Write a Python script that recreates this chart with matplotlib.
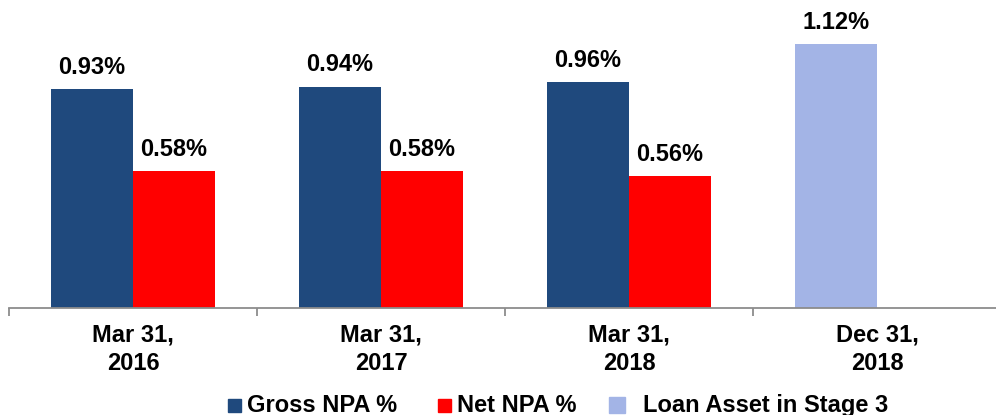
import matplotlib.pyplot as plt
from matplotlib.patches import Rectangle

# data
periods = ['Mar 31,\n2016', 'Mar 31,\n2017', 'Mar 31,\n2018', 'Dec 31,\n2018']
gross_npa = [0.93, 0.94, 0.96]
net_npa = [0.58, 0.58, 0.56]
stage3 = [1.12]

c_gross = '#1F497D'
c_net = '#FF0000'
c_stage = '#A3B4E6'

plt.rcParams['font.family'] = ['Liberation Sans', 'DejaVu Sans']
plt.rcParams['font.weight'] = 'bold'

fig = plt.figure(figsize=(9.96, 4.15), dpi=100)
W, H = 996, 415
ax = fig.add_axes([9 / W, (H - 308) / H, 992 / W, 308 / H])

w = 0.331
xg = [i - w / 2 for i in range(len(gross_npa))]
xn = [i + w / 2 for i in range(len(net_npa))]
xs = [3 - w / 2]

ax.bar(xg, gross_npa, width=w, color=c_gross)
ax.bar(xn, net_npa, width=w, color=c_net)
ax.bar(xs, stage3, width=w, color=c_stage)

for xx, vv in zip(xg + xn + xs, gross_npa + net_npa + stage3):
    ax.annotate(f'{vv:.2f}%', (xx, vv), xytext=(0, 11), textcoords='offset points',
                ha='center', va='baseline', fontsize=17, fontweight='bold')

ax.set_xlim(-0.5, 3.5)
ax.set_ylim(0, 308 / 235.6)
for s in ['top', 'right', 'left']:
    ax.spines[s].set_visible(False)
ax.spines['bottom'].set_color('#8C8C8C')
ax.spines['bottom'].set_linewidth(1.3)
ax.set_yticks([])
ax.set_xticks(range(4))
ax.set_xticklabels(periods, fontsize=17, fontweight='bold', linespacing=1.32)
ax.tick_params(axis='x', which='major', length=0, pad=11)
ax.set_xticks([-0.5, 0.5, 1.5, 2.5, 3.5], minor=True)
ax.tick_params(axis='x', which='minor', length=6, width=1.3, color='#8C8C8C')

# legend drawn by hand to match the spacing
legend = [('Gross NPA %', c_gross, 228, 13, 247),
          ('Net NPA %', c_net, 438, 13, 457),
          ('Loan Asset in Stage 3', c_stage, 609, 16, 643)]
yc = 405
for label, col, mx, ms, tx in legend:
    fig.add_artist(Rectangle((mx / W, (H - yc - ms / 2) / H), ms / W, ms / H,
                             transform=fig.transFigure, color=col))
    fig.text(tx / W, (H - yc) / H, label, fontsize=17, fontweight='bold',
             ha='left', va='center')

fig.savefig('out.png', dpi=100)
